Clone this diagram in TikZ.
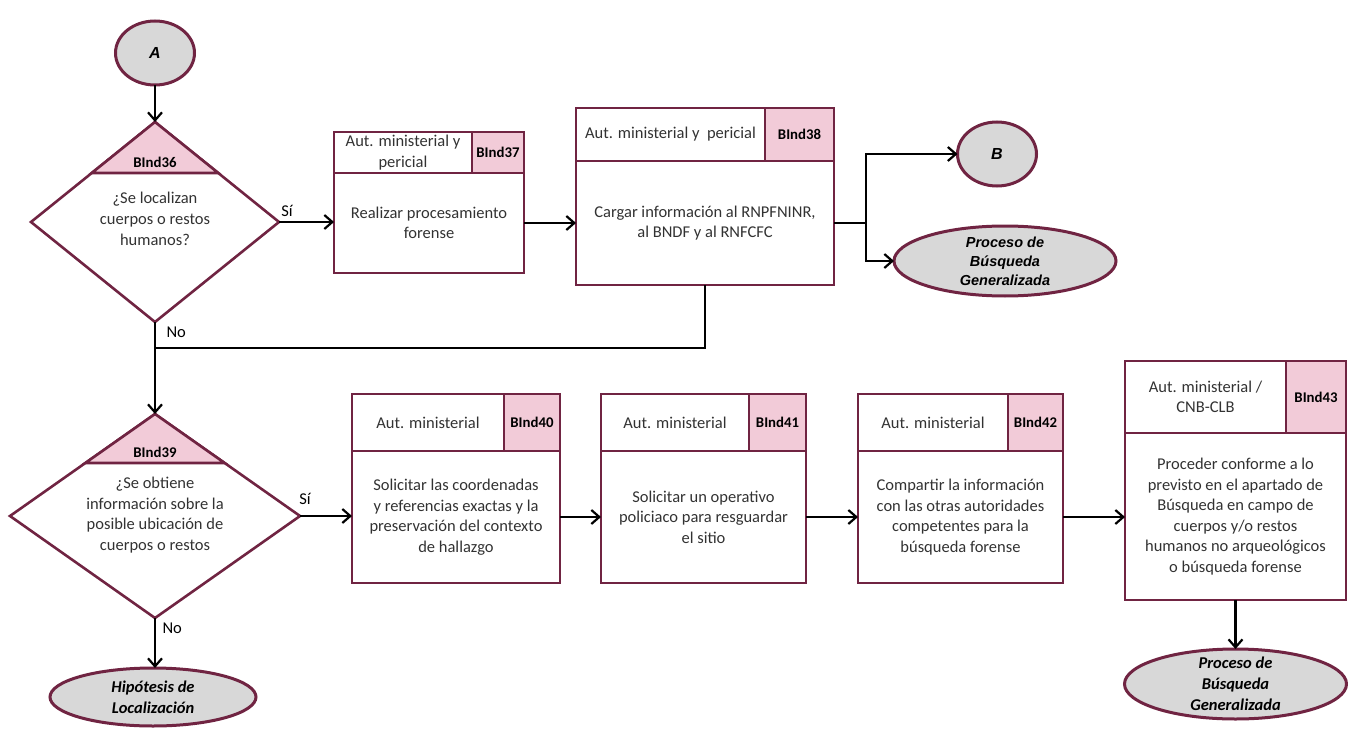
\documentclass[tikz,border=0pt]{standalone}
\usepackage{fontspec}
\setmainfont{Carlito}
\newfontfamily\arialfont{Liberation Sans}
\usetikzlibrary{shapes.geometric,arrows.meta,calc}
\definecolor{vino}{RGB}{112,36,66}
\definecolor{rosa}{RGB}{242,203,216}
\definecolor{gris}{RGB}{216,216,216}
\definecolor{tinta}{RGB}{50,50,50}
\tikzset{
	caja/.style={draw=vino, line width=2.8pt, outer sep=0pt, inner sep=1pt, align=center,
		text=tinta, font=\fontsize{16.5}{20.6}\selectfont},
	cuerpo/.style={caja, anchor=north west},
	cabeza/.style={caja, anchor=south west},
	clave/.style={caja, fill=rosa, anchor=south east, text=black,
		font=\bfseries\fontsize{14.8}{16}\selectfont},
	decision/.style={diamond, draw=vino, line width=2.6pt, outer sep=0pt, inner sep=0pt},
	triangulo/.style={fill=rosa, draw=vino, line width=2.6pt},
	pregunta/.style={align=center, text=tinta, font=\fontsize{16.5}{20.8}\selectfont},
	clavetri/.style={text=black, font=\bfseries\fontsize{14.8}{16}\selectfont},
	conector/.style={ellipse, draw=vino, fill=gris, line width=3pt, outer sep=0pt,
		inner sep=0pt, minimum width=79pt, minimum height=64pt,
		font=\arialfont\bfseries\itshape\fontsize{16}{19}\selectfont},
	terminal/.style={ellipse, draw=vino, fill=gris, line width=3pt, outer sep=0pt, inner sep=0pt},
	textoarial/.style={align=center, font=\arialfont\bfseries\itshape\fontsize{14.5}{19}\selectfont},
	textoterm/.style={align=center, font=\bfseries\itshape\fontsize{16.5}{21}\selectfont},
	rotulo/.style={text=black, font=\fontsize{16.5}{20}\selectfont},
	linea/.style={draw=black, line width=2.2pt},
	flecha/.style={linea, -{Straight Barb[length=8pt,width=14pt]}}
}
\begin{document}
\begin{tikzpicture}[x=1pt, y=-1pt]
	\useasboundingbox (0,0) rectangle (1348,730);
	
	\node[conector] (A) at (155,53) {A};
	
	\node[decision, minimum width=248pt, minimum height=200pt] (d36) at (155,222) {};
	\filldraw[triangulo] (d36.north) -- ($(d36.north)!0.51!(d36.west)$) -- ($(d36.north)!0.51!(d36.east)$) -- cycle;
	\node[clavetri] (c36) at (155,162) {BInd36};
	\node[pregunta] (q36) at (155,219) {¿Se localizan\\cuerpos o restos\\humanos?};
	\draw[flecha] (A.south) -- (d36.north);
	
	\node[cuerpo, minimum width=190pt, minimum height=100pt] (r37) at (334,173) {Realizar procesamiento\\forense};
	\node[cabeza, minimum width=138pt, minimum height=41pt] (a37) at (r37.north west) {Aut. ministerial y\\pericial};
	\node[clave, minimum width=52pt, minimum height=41pt] (c37) at (r37.north east) {BInd37};
	\draw[flecha] (d36.east) -- (d36.east -| r37.west);
	\node[rotulo] (si36) at (287,211) {Sí};
	
	\node[cuerpo, minimum width=258pt, minimum height=124pt] (r38) at (576,161) {Cargar información al RNPFNINR,\\al BNDF y al RNFCFC};
	\node[cabeza, minimum width=189pt, minimum height=53pt] (a38) at (r38.north west) {Aut. ministerial y\ \ pericial};
	\node[clave, minimum width=69pt, minimum height=53pt] (c38) at (r38.north east) {BInd38};
	\draw[flecha] (r37.east) -- (r37.east -| r38.west);
	
	\node[conector] (B) at (997,154) {B};
	\node[terminal, minimum width=222pt, minimum height=70pt] (g38) at (1005,261) {};
	\node[textoarial] (t38) at (g38.center) {Proceso de\\Búsqueda\\Generalizada};
	\draw[linea] (r38.east) -- ++(32,0) coordinate (j38);
	\draw[flecha] (j38) |- (B.west);
	\draw[flecha] (j38) |- (g38.west);
	
	\coordinate (m36) at (155,348);
	\draw[linea] (r38.south) |- (m36);
	\node[rotulo, anchor=west] (no36) at (163,332) {No};
	
	\node[decision, minimum width=290pt, minimum height=204pt] (d39) at (155,516) {};
	\filldraw[triangulo] (d39.north) -- ($(d39.north)!0.48!(d39.west)$) -- ($(d39.north)!0.48!(d39.east)$) -- cycle;
	\node[clavetri] (c39) at (155,452) {BInd39};
	\node[pregunta] (q39) at (155,515) {¿Se obtiene\\información sobre la\\posible ubicación de\\cuerpos o restos};
	\draw[flecha] (d36.south) -- (d39.north);
	\node[rotulo] (si39) at (305,499) {Sí};
	
	\node[cuerpo, minimum width=208pt, minimum height=132pt] (r40) at (352,451) {Solicitar las coordenadas\\y referencias exactas y la\\preservación del contexto\\de hallazgo};
	\node[cabeza, minimum width=152pt, minimum height=57pt] (a40) at (r40.north west) {Aut. ministerial};
	\node[clave, minimum width=56pt, minimum height=57pt] (c40) at (r40.north east) {BInd40};
	\draw[flecha] (d39.east) -- (d39.east -| r40.west);
	
	\node[cuerpo, minimum width=205pt, minimum height=132pt] (r41) at (601,451) {Solicitar un operativo\\policiaco para resguardar\\el sitio};
	\node[cabeza, minimum width=148pt, minimum height=57pt] (a41) at (r41.north west) {Aut. ministerial};
	\node[clave, minimum width=57pt, minimum height=57pt] (c41) at (r41.north east) {BInd41};
	\draw[flecha] (r40.east) -- (r41.west);
	
	\node[cuerpo, minimum width=205pt, minimum height=132pt] (r42) at (858,451) {Compartir la información\\con las otras autoridades\\competentes para la\\búsqueda forense};
	\node[cabeza, minimum width=150pt, minimum height=57pt] (a42) at (r42.north west) {Aut. ministerial};
	\node[clave, minimum width=55pt, minimum height=57pt] (c42) at (r42.north east) {BInd42};
	\draw[flecha] (r41.east) -- (r42.west);
	
	\node[cuerpo, minimum width=221pt, minimum height=167pt] (r43) at (1125,433) {Proceder conforme a lo\\previsto en el apartado de\\Búsqueda en campo de\\cuerpos y/o restos\\humanos no arqueológicos\\o búsqueda forense};
	\node[cabeza, minimum width=161pt, minimum height=72pt] (a43) at (r43.north west) {Aut. ministerial /\\CNB-CLB};
	\node[clave, minimum width=60pt, minimum height=72pt] (c43) at (r43.north east) {BInd43};
	\draw[flecha] (r42.east) -- (r42.east -| r43.west);
	
	\node[terminal, minimum width=222pt, minimum height=70pt] (g43) at (1235.5,684) {};
	\node[textoterm] (t43) at (g43.center) {Proceso de\\Búsqueda\\Generalizada};
	\draw[flecha] (r43.south) -- (g43.north);
	
	\node[terminal, minimum width=206pt, minimum height=58pt] (h39) at (153,697) {};
	\node[textoterm] (t39) at (h39.center) {Hipótesis de\\Localización};
	\draw[flecha] (d39.south) -- (d39.south |- h39.north);
	\node[rotulo, anchor=west] (no39) at (159,628) {No};
\end{tikzpicture}
\end{document}
